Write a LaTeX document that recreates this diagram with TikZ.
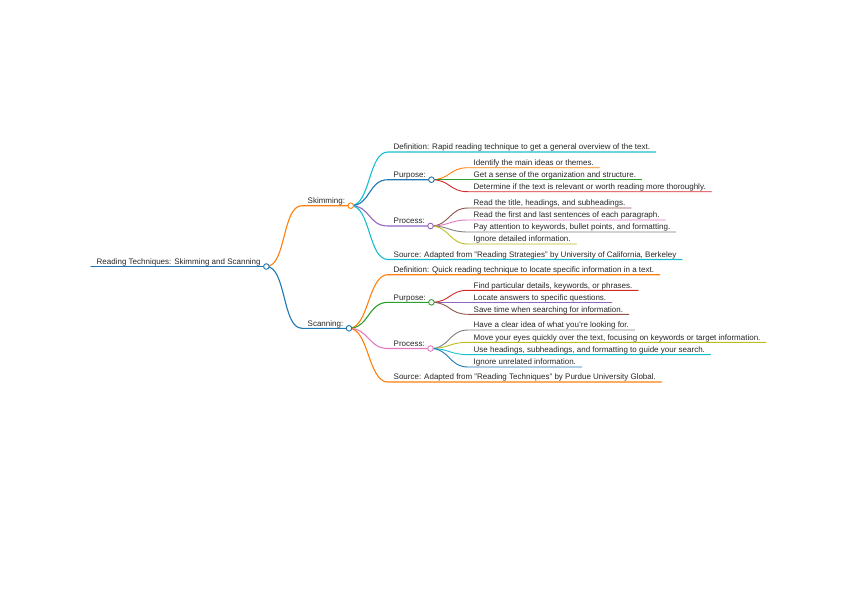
\documentclass[tikz,border=0pt]{standalone}
\usepackage{fontspec}
\setmainfont{Liberation Sans}
\usetikzlibrary{positioning}
\definecolor{mapblue}{RGB}{31,119,180}
\definecolor{maporange}{RGB}{255,127,14}
\definecolor{mapgreen}{RGB}{44,160,44}
\definecolor{mapred}{RGB}{214,39,40}
\definecolor{mappurple}{RGB}{148,103,189}
\definecolor{mapbrown}{RGB}{140,86,75}
\definecolor{mappink}{RGB}{227,119,194}
\definecolor{mapgray}{RGB}{127,127,127}
\definecolor{mapolive}{RGB}{188,189,34}
\definecolor{mapcyan}{RGB}{23,190,207}

\begin{document}
\begin{tikzpicture}[x=1pt, y=-1pt,
  topic/.style={anchor=south west, inner xsep=5.5pt, inner ysep=0pt,
                text depth=2pt, font=\fontsize{8}{9}\selectfont, text=black!85},
  link/.style={line width=1.1pt, line cap=round},
  twig/.style={line width=0.9pt, line cap=round},
  knob/.style={draw=#1, fill=white, line width=0.9pt}
]
\useasboundingbox (0,0) rectangle (848,600);

% main topic
\node[topic] (root) at (91,266.5) {Reading Techniques: Skimming and Scanning};

\node[topic] (skim) at (302,205.7) {Skimming:};
\node[topic] (scan) at (302,328.3) {Scanning:};

% skimming
\node[topic] (skimdef) at (388,152) {Definition: Rapid reading technique to get a general overview of the text.};
\node[topic] (skimpur) at (388,179.7) {Purpose:};
\node[topic] (skimpura) at (468,167.7) {Identify the main ideas or themes.};
\node[topic] (skimpurb) at (468,179.7) {Get a sense of the organization and structure.};
\node[topic] (skimpurc) at (468,191.7) {Determine if the text is relevant or worth reading more thoroughly.};
\node[topic] (skimpro) at (388,226) {Process:};
\node[topic] (skimproa) at (468,208) {Read the title, headings, and subheadings.};
\node[topic] (skimprob) at (468,220) {Read the first and last sentences of each paragraph.};
\node[topic] (skimproc) at (468,232) {Pay attention to keywords, bullet points, and formatting.};
\node[topic] (skimprod) at (468,244) {Ignore detailed information.};
\node[topic] (skimsrc) at (388,259.5) {Source: Adapted from "Reading Strategies" by University of California, Berkeley};

% scanning
\node[topic] (scandef) at (388,274.7) {Definition: Quick reading technique to locate specific information in a text.};
\node[topic] (scanpur) at (388,302.3) {Purpose:};
\node[topic] (scanpura) at (468,290.3) {Find particular details, keywords, or phrases.};
\node[topic] (scanpurb) at (468,302.3) {Locate answers to specific questions.};
\node[topic] (scanpurc) at (468,314.3) {Save time when searching for information.};
\node[topic] (scanpro) at (388,348.5) {Process:};
\node[topic] (scanproa) at (468,330) {Have a clear idea of what you're looking for.};
\node[topic] (scanprob) at (468,342.3) {Move your eyes quickly over the text, focusing on keywords or target information.};
\node[topic] (scanproc) at (468,354.6) {Use headings, subheadings, and formatting to guide your search.};
\node[topic] (scanprod) at (468,367) {Ignore unrelated information.};
\node[topic] (scansrc) at (388,382) {Source: Adapted from "Reading Techniques" by Purdue University Global.};

% branches with their underlines
\draw[link, mapblue] (root.south west) -- (root.south east);
\draw[link, maporange] (root.south east) .. controls +(20,0) and +(-20,0) .. (skim.south west) -- (skim.south east);
\draw[link, mapblue] (root.south east) .. controls +(20,0) and +(-20,0) .. (scan.south west) -- (scan.south east);

\draw[link, mapcyan] (skim.south east) .. controls +(20,0) and +(-20,0) .. (skimdef.south west) -- (skimdef.south east);
\draw[link, mapblue] (skim.south east) .. controls +(20,0) and +(-20,0) .. (skimpur.south west) -- (skimpur.south east);
\draw[link, mappurple] (skim.south east) .. controls +(20,0) and +(-20,0) .. (skimpro.south west) -- (skimpro.south east);
\draw[link, mapcyan] (skim.south east) .. controls +(20,0) and +(-20,0) .. (skimsrc.south west) -- (skimsrc.south east);

\draw[twig, maporange] (skimpur.south east) .. controls +(19,0) and +(-19,0) .. (skimpura.south west) -- (skimpura.south east);
\draw[twig, mapgreen] (skimpur.south east) .. controls +(19,0) and +(-19,0) .. (skimpurb.south west) -- (skimpurb.south east);
\draw[twig, mapred] (skimpur.south east) .. controls +(19,0) and +(-19,0) .. (skimpurc.south west) -- (skimpurc.south east);

\draw[twig, mapbrown] (skimpro.south east) .. controls +(19,0) and +(-19,0) .. (skimproa.south west) -- (skimproa.south east);
\draw[twig, mappink] (skimpro.south east) .. controls +(19,0) and +(-19,0) .. (skimprob.south west) -- (skimprob.south east);
\draw[twig, mapgray] (skimpro.south east) .. controls +(19,0) and +(-19,0) .. (skimproc.south west) -- (skimproc.south east);
\draw[twig, mapolive] (skimpro.south east) .. controls +(19,0) and +(-19,0) .. (skimprod.south west) -- (skimprod.south east);

\draw[link, maporange] (scan.south east) .. controls +(20,0) and +(-20,0) .. (scandef.south west) -- (scandef.south east);
\draw[link, mapgreen] (scan.south east) .. controls +(20,0) and +(-20,0) .. (scanpur.south west) -- (scanpur.south east);
\draw[link, mappink] (scan.south east) .. controls +(20,0) and +(-20,0) .. (scanpro.south west) -- (scanpro.south east);
\draw[link, maporange] (scan.south east) .. controls +(20,0) and +(-20,0) .. (scansrc.south west) -- (scansrc.south east);

\draw[twig, mapred] (scanpur.south east) .. controls +(19,0) and +(-19,0) .. (scanpura.south west) -- (scanpura.south east);
\draw[twig, mappurple] (scanpur.south east) .. controls +(19,0) and +(-19,0) .. (scanpurb.south west) -- (scanpurb.south east);
\draw[twig, mapbrown] (scanpur.south east) .. controls +(19,0) and +(-19,0) .. (scanpurc.south west) -- (scanpurc.south east);

\draw[twig, mapgray] (scanpro.south east) .. controls +(19,0) and +(-19,0) .. (scanproa.south west) -- (scanproa.south east);
\draw[twig, mapolive] (scanpro.south east) .. controls +(19,0) and +(-19,0) .. (scanprob.south west) -- (scanprob.south east);
\draw[twig, mapcyan] (scanpro.south east) .. controls +(19,0) and +(-19,0) .. (scanproc.south west) -- (scanproc.south east);
\draw[twig, mapblue] (scanpro.south east) .. controls +(19,0) and +(-19,0) .. (scanprod.south west) -- (scanprod.south east);

% fold circles
\draw[knob=mapblue] (root.south east) circle[radius=2.8];
\draw[knob=maporange] (skim.south east) circle[radius=2.8];
\draw[knob=mapblue] (scan.south east) circle[radius=2.8];
\draw[knob=mapblue] (skimpur.south east) circle[radius=2.8];
\draw[knob=mappurple] (skimpro.south east) circle[radius=2.8];
\draw[knob=mapgreen] (scanpur.south east) circle[radius=2.8];
\draw[knob=mappink] (scanpro.south east) circle[radius=2.8];

\end{tikzpicture}
\end{document}
